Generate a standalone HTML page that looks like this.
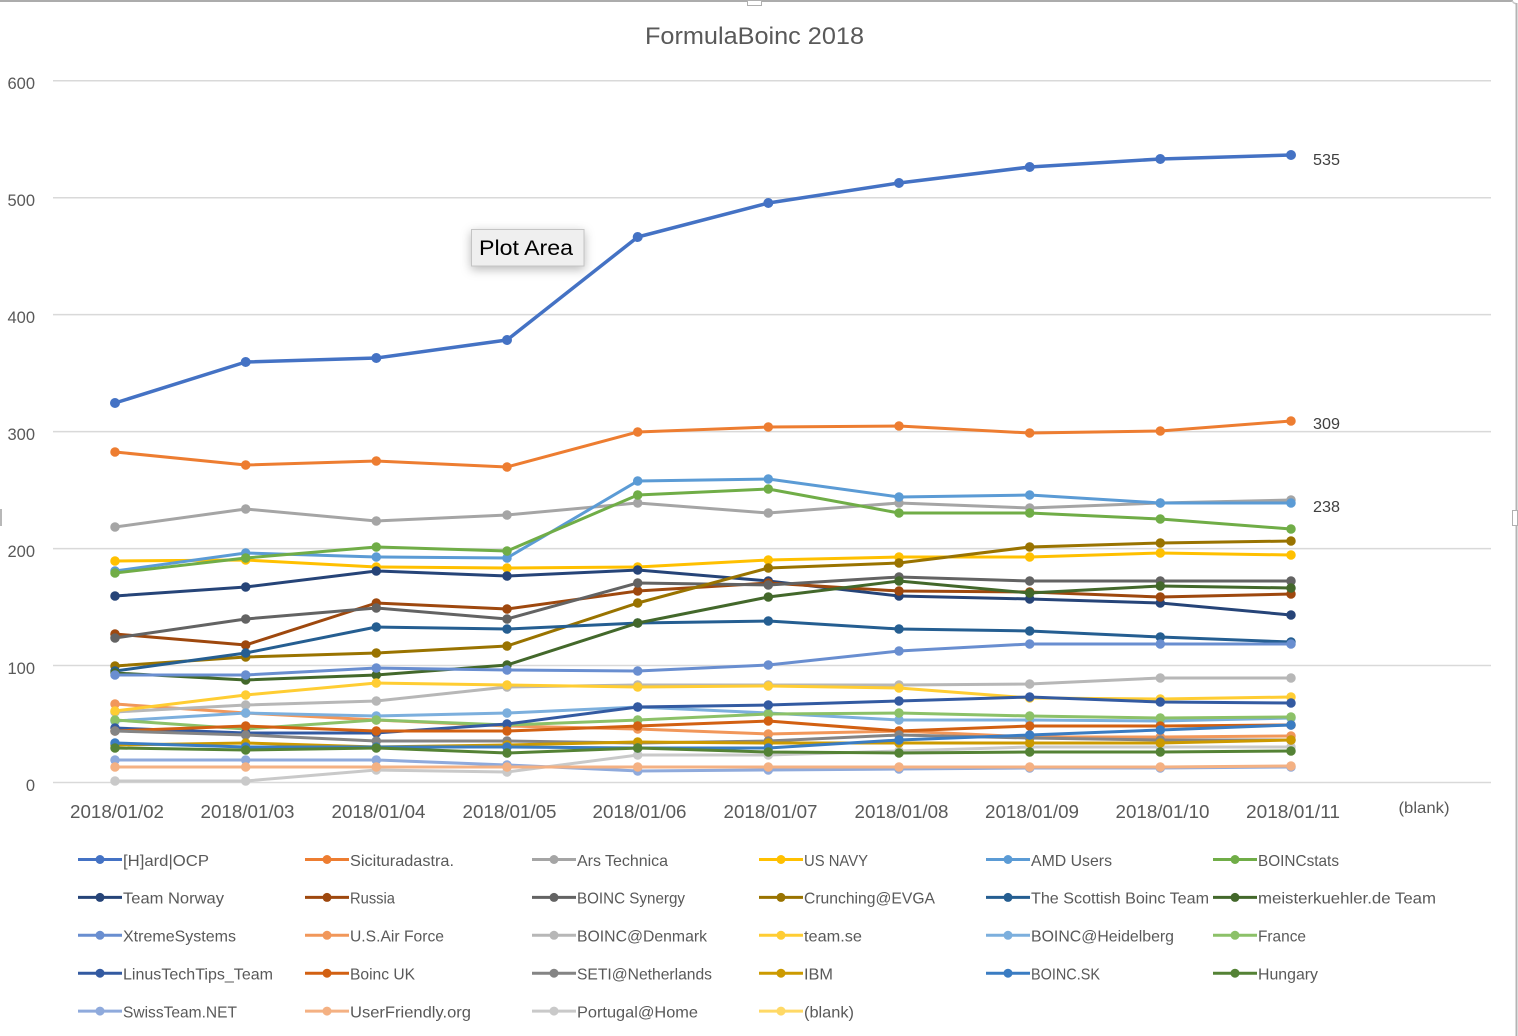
<!DOCTYPE html>
<html>
<head>
<meta charset="utf-8">
<style>
html,body{margin:0;padding:0;background:#fff;}
svg{display:block;}
text{font-family:"Liberation Sans",Arial,sans-serif;}
</style>
</head>
<body>
<svg width="1518" height="1036" viewBox="0 0 1518 1036" xmlns="http://www.w3.org/2000/svg">
<defs>
<filter id="sh" x="-30%" y="-50%" width="160%" height="220%">
<feDropShadow dx="0" dy="3" stdDeviation="5" flood-color="#000" flood-opacity="0.28"/>
</filter>
</defs>
<rect x="0" y="0" width="1518" height="1036" fill="#fff"/>

<!-- frame -->
<line x1="0" y1="1" x2="1513" y2="1" stroke="#ACACAC" stroke-width="2"/>
<polyline points="1512,1 1514,3 1516.5,4" fill="none" stroke="#C8C8C8" stroke-width="1.5"/>
<line x1="1516.5" y1="3" x2="1516.5" y2="1036" stroke="#B4B4B4" stroke-width="2"/>
<rect x="747.5" y="0.5" width="14" height="5" fill="#fff" stroke="#B0B0B0" stroke-width="1"/>
<rect x="1512.5" y="510.5" width="5" height="15" fill="#fff" stroke="#B0B0B0" stroke-width="1"/>
<rect x="0" y="509" width="2" height="17" fill="#B8B8B8"/>

<!-- title -->
<text x="754.5" y="44" font-size="24" fill="#595959" text-anchor="middle" textLength="219" lengthAdjust="spacingAndGlyphs">FormulaBoinc 2018</text>

<!-- gridlines -->
<g stroke="#D9D9D9" stroke-width="1.5">
<line x1="53" y1="80.7" x2="1491" y2="80.7"/>
<line x1="53" y1="197.7" x2="1491" y2="197.7"/>
<line x1="53" y1="314.6" x2="1491" y2="314.6"/>
<line x1="53" y1="431.6" x2="1491" y2="431.6"/>
<line x1="53" y1="548.6" x2="1491" y2="548.6"/>
<line x1="53" y1="665.5" x2="1491" y2="665.5"/>
<line x1="53" y1="782.5" x2="1491" y2="782.5"/>
</g>

<!-- y labels -->
<g font-size="16.5" fill="#595959" text-anchor="end">
<text x="35" y="89">600</text>
<text x="35" y="206">500</text>
<text x="35" y="323">400</text>
<text x="35" y="440">300</text>
<text x="35" y="557">200</text>
<text x="35" y="674">100</text>
<text x="35" y="791">0</text>
</g>

<!-- x labels -->
<g font-size="18.5" fill="#595959" text-anchor="middle">
<text x="117" y="818" textLength="94" lengthAdjust="spacingAndGlyphs">2018/01/02</text>
<text x="247.5" y="818" textLength="94" lengthAdjust="spacingAndGlyphs">2018/01/03</text>
<text x="378.5" y="818" textLength="94" lengthAdjust="spacingAndGlyphs">2018/01/04</text>
<text x="509.5" y="818" textLength="94" lengthAdjust="spacingAndGlyphs">2018/01/05</text>
<text x="639.5" y="818" textLength="94" lengthAdjust="spacingAndGlyphs">2018/01/06</text>
<text x="770.5" y="818" textLength="94" lengthAdjust="spacingAndGlyphs">2018/01/07</text>
<text x="901.5" y="818" textLength="94" lengthAdjust="spacingAndGlyphs">2018/01/08</text>
<text x="1032" y="818" textLength="94" lengthAdjust="spacingAndGlyphs">2018/01/09</text>
<text x="1162.5" y="818" textLength="94" lengthAdjust="spacingAndGlyphs">2018/01/10</text>
<text x="1293" y="818" textLength="94" lengthAdjust="spacingAndGlyphs">2018/01/11</text>
</g>
<text x="1424" y="813" font-size="16" fill="#595959" text-anchor="middle" textLength="51" lengthAdjust="spacingAndGlyphs">(blank)</text>

<!-- series -->
<g fill="none" stroke-linejoin="round" stroke-linecap="round">
<!-- 27 Portugal@Home -->
<polyline stroke="#C9C9C9" stroke-width="3" points="115,781 245.7,781 376.3,770 507,772 637.7,755 768.3,755 899,751 1029.7,747 1160.3,747 1291,747"/>
<path stroke="#C9C9C9" stroke-width="9.5" d="M115 781h0M245.7 781h0M376.3 770h0M507 772h0M637.7 755h0M768.3 755h0M899 751h0M1029.7 747h0M1160.3 747h0M1291 747h0"/>
<!-- 1 [H]ard|OCP -->
<polyline stroke="#4472C4" stroke-width="3.5" points="115,403 245.7,362 376.3,358 507,340 637.7,237 768.3,203 899,183 1029.7,167 1160.3,159 1291,155"/>
<path stroke="#4472C4" stroke-width="10" d="M115 403h0M245.7 362h0M376.3 358h0M507 340h0M637.7 237h0M768.3 203h0M899 183h0M1029.7 167h0M1160.3 159h0M1291 155h0"/>
<!-- 2 Sicituradastra. -->
<polyline stroke="#ED7D31" stroke-width="3" points="115,452 245.7,465 376.3,461 507,467 637.7,432 768.3,427 899,426 1029.7,433 1160.3,431 1291,421"/>
<path stroke="#ED7D31" stroke-width="9.5" d="M115 452h0M245.7 465h0M376.3 461h0M507 467h0M637.7 432h0M768.3 427h0M899 426h0M1029.7 433h0M1160.3 431h0M1291 421h0"/>
<!-- 3 Ars Technica -->
<polyline stroke="#A5A5A5" stroke-width="3" points="115,527 245.7,509 376.3,521 507,515 637.7,503 768.3,513 899,503 1029.7,508 1160.3,503 1291,500"/>
<path stroke="#A5A5A5" stroke-width="9.5" d="M115 527h0M245.7 509h0M376.3 521h0M507 515h0M637.7 503h0M768.3 513h0M899 503h0M1029.7 508h0M1160.3 503h0M1291 500h0"/>
<!-- 4 US NAVY -->
<polyline stroke="#FFC000" stroke-width="3" points="115,561 245.7,560 376.3,567 507,568 637.7,567 768.3,560 899,557 1029.7,557 1160.3,553 1291,555"/>
<path stroke="#FFC000" stroke-width="9.5" d="M115 561h0M245.7 560h0M376.3 567h0M507 568h0M637.7 567h0M768.3 560h0M899 557h0M1029.7 557h0M1160.3 553h0M1291 555h0"/>
<!-- 5 AMD Users -->
<polyline stroke="#5B9BD5" stroke-width="3" points="115,571 245.7,553 376.3,557 507,558 637.7,481 768.3,479 899,497 1029.7,495 1160.3,503 1291,503"/>
<path stroke="#5B9BD5" stroke-width="9.5" d="M115 571h0M245.7 553h0M376.3 557h0M507 558h0M637.7 481h0M768.3 479h0M899 497h0M1029.7 495h0M1160.3 503h0M1291 503h0"/>
<!-- 6 BOINCstats -->
<polyline stroke="#70AD47" stroke-width="3" points="115,573 245.7,558 376.3,547 507,551 637.7,495 768.3,489 899,513 1029.7,513 1160.3,519 1291,529"/>
<path stroke="#70AD47" stroke-width="9.5" d="M115 573h0M245.7 558h0M376.3 547h0M507 551h0M637.7 495h0M768.3 489h0M899 513h0M1029.7 513h0M1160.3 519h0M1291 529h0"/>
<!-- 7 Team Norway -->
<polyline stroke="#264478" stroke-width="3" points="115,596 245.7,587 376.3,571 507,576 637.7,570 768.3,581 899,596 1029.7,599 1160.3,603 1291,615"/>
<path stroke="#264478" stroke-width="9.5" d="M115 596h0M245.7 587h0M376.3 571h0M507 576h0M637.7 570h0M768.3 581h0M899 596h0M1029.7 599h0M1160.3 603h0M1291 615h0"/>
<!-- 8 Russia -->
<polyline stroke="#9E480E" stroke-width="3" points="115,634 245.7,645 376.3,603 507,609 637.7,591 768.3,583 899,591 1029.7,592 1160.3,597 1291,594"/>
<path stroke="#9E480E" stroke-width="9.5" d="M115 634h0M245.7 645h0M376.3 603h0M507 609h0M637.7 591h0M768.3 583h0M899 591h0M1029.7 592h0M1160.3 597h0M1291 594h0"/>
<!-- 9 BOINC Synergy -->
<polyline stroke="#636363" stroke-width="3" points="115,638 245.7,619 376.3,608 507,619 637.7,583 768.3,585 899,577 1029.7,581 1160.3,581 1291,581"/>
<path stroke="#636363" stroke-width="9.5" d="M115 638h0M245.7 619h0M376.3 608h0M507 619h0M637.7 583h0M768.3 585h0M899 577h0M1029.7 581h0M1160.3 581h0M1291 581h0"/>
<!-- 10 Crunching@EVGA -->
<polyline stroke="#997300" stroke-width="3" points="115,666 245.7,657 376.3,653 507,646 637.7,603 768.3,568 899,563 1029.7,547 1160.3,543 1291,541"/>
<path stroke="#997300" stroke-width="9.5" d="M115 666h0M245.7 657h0M376.3 653h0M507 646h0M637.7 603h0M768.3 568h0M899 563h0M1029.7 547h0M1160.3 543h0M1291 541h0"/>
<!-- 11 The Scottish Boinc Team -->
<polyline stroke="#255E91" stroke-width="3" points="115,671 245.7,653 376.3,627 507,629 637.7,623 768.3,621 899,629 1029.7,631 1160.3,637 1291,642"/>
<path stroke="#255E91" stroke-width="9.5" d="M115 671h0M245.7 653h0M376.3 627h0M507 629h0M637.7 623h0M768.3 621h0M899 629h0M1029.7 631h0M1160.3 637h0M1291 642h0"/>
<!-- 12 meisterkuehler.de Team -->
<polyline stroke="#43682B" stroke-width="3" points="115,673 245.7,680 376.3,675 507,665 637.7,623 768.3,597 899,581 1029.7,593 1160.3,586 1291,588"/>
<path stroke="#43682B" stroke-width="9.5" d="M115 673h0M245.7 680h0M376.3 675h0M507 665h0M637.7 623h0M768.3 597h0M899 581h0M1029.7 593h0M1160.3 586h0M1291 588h0"/>
<!-- 13 XtremeSystems -->
<polyline stroke="#698ED0" stroke-width="3" points="115,675 245.7,675 376.3,668 507,670 637.7,671 768.3,665 899,651 1029.7,644 1160.3,644 1291,644"/>
<path stroke="#698ED0" stroke-width="9.5" d="M115 675h0M245.7 675h0M376.3 668h0M507 670h0M637.7 671h0M768.3 665h0M899 651h0M1029.7 644h0M1160.3 644h0M1291 644h0"/>
<!-- 14 U.S.Air Force -->
<polyline stroke="#F1975A" stroke-width="3" points="115,704 245.7,713 376.3,720 507,726 637.7,729 768.3,734 899,731 1029.7,737 1160.3,737 1291,736"/>
<path stroke="#F1975A" stroke-width="9.5" d="M115 704h0M245.7 713h0M376.3 720h0M507 726h0M637.7 729h0M768.3 734h0M899 731h0M1029.7 737h0M1160.3 737h0M1291 736h0"/>
<!-- 15 BOINC@Denmark -->
<polyline stroke="#B7B7B7" stroke-width="3" points="115,712 245.7,705 376.3,701 507,687 637.7,685 768.3,685 899,685 1029.7,684 1160.3,678 1291,678"/>
<path stroke="#B7B7B7" stroke-width="9.5" d="M115 712h0M245.7 705h0M376.3 701h0M507 687h0M637.7 685h0M768.3 685h0M899 685h0M1029.7 684h0M1160.3 678h0M1291 678h0"/>
<!-- 16 team.se -->
<polyline stroke="#FFCD33" stroke-width="3" points="115,711 245.7,695 376.3,683 507,685 637.7,687 768.3,686 899,688 1029.7,698 1160.3,699 1291,697"/>
<path stroke="#FFCD33" stroke-width="9.5" d="M115 711h0M245.7 695h0M376.3 683h0M507 685h0M637.7 687h0M768.3 686h0M899 688h0M1029.7 698h0M1160.3 699h0M1291 697h0"/>
<!-- 17 BOINC@Heidelberg -->
<polyline stroke="#7CAFDD" stroke-width="3" points="115,721 245.7,713 376.3,716 507,713 637.7,707 768.3,713 899,720 1029.7,720 1160.3,721 1291,718"/>
<path stroke="#7CAFDD" stroke-width="9.5" d="M115 721h0M245.7 713h0M376.3 716h0M507 713h0M637.7 707h0M768.3 713h0M899 720h0M1029.7 720h0M1160.3 721h0M1291 718h0"/>
<!-- 18 France -->
<polyline stroke="#8CC168" stroke-width="3" points="115,720 245.7,729 376.3,720 507,725 637.7,720 768.3,714 899,713 1029.7,716 1160.3,718 1291,717"/>
<path stroke="#8CC168" stroke-width="9.5" d="M115 720h0M245.7 729h0M376.3 720h0M507 725h0M637.7 720h0M768.3 714h0M899 713h0M1029.7 716h0M1160.3 718h0M1291 717h0"/>
<!-- 19 LinusTechTips_Team -->
<polyline stroke="#335AA1" stroke-width="3" points="115,728 245.7,733 376.3,733 507,724 637.7,707 768.3,705 899,701 1029.7,697 1160.3,702 1291,703"/>
<path stroke="#335AA1" stroke-width="9.5" d="M115 728h0M245.7 733h0M376.3 733h0M507 724h0M637.7 707h0M768.3 705h0M899 701h0M1029.7 697h0M1160.3 702h0M1291 703h0"/>
<!-- 20 Boinc UK -->
<polyline stroke="#D26012" stroke-width="3" points="115,731 245.7,726 376.3,731 507,731 637.7,726 768.3,721 899,731 1029.7,726 1160.3,726 1291,725"/>
<path stroke="#D26012" stroke-width="9.5" d="M115 731h0M245.7 726h0M376.3 731h0M507 731h0M637.7 726h0M768.3 721h0M899 731h0M1029.7 726h0M1160.3 726h0M1291 725h0"/>
<!-- 21 SETI@Netherlands -->
<polyline stroke="#848484" stroke-width="3" points="115,731 245.7,735 376.3,741 507,741 637.7,743 768.3,741 899,735 1029.7,738 1160.3,740 1291,740"/>
<path stroke="#848484" stroke-width="9.5" d="M115 731h0M245.7 735h0M376.3 741h0M507 741h0M637.7 743h0M768.3 741h0M899 735h0M1029.7 738h0M1160.3 740h0M1291 740h0"/>
<!-- 22 IBM -->
<polyline stroke="#CC9A00" stroke-width="3" points="115,745 245.7,743 376.3,747 507,745 637.7,742 768.3,743 899,743 1029.7,743 1160.3,743 1291,740"/>
<path stroke="#CC9A00" stroke-width="9.5" d="M115 745h0M245.7 743h0M376.3 747h0M507 745h0M637.7 742h0M768.3 743h0M899 743h0M1029.7 743h0M1160.3 743h0M1291 740h0"/>
<!-- 23 BOINC.SK -->
<polyline stroke="#3A7CC2" stroke-width="3" points="115,743 245.7,747 376.3,747 507,747 637.7,748 768.3,748 899,740 1029.7,735 1160.3,730 1291,725"/>
<path stroke="#3A7CC2" stroke-width="9.5" d="M115 743h0M245.7 747h0M376.3 747h0M507 747h0M637.7 748h0M768.3 748h0M899 740h0M1029.7 735h0M1160.3 730h0M1291 725h0"/>
<!-- 24 Hungary -->
<polyline stroke="#548235" stroke-width="3" points="115,748 245.7,750 376.3,748 507,753 637.7,748 768.3,752 899,753 1029.7,752 1160.3,752 1291,751"/>
<path stroke="#548235" stroke-width="9.5" d="M115 748h0M245.7 750h0M376.3 748h0M507 753h0M637.7 748h0M768.3 752h0M899 753h0M1029.7 752h0M1160.3 752h0M1291 751h0"/>
<!-- 25 SwissTeam.NET -->
<polyline stroke="#8FAADC" stroke-width="3" points="115,760 245.7,760 376.3,760 507,765 637.7,771 768.3,770 899,769 1029.7,768 1160.3,768 1291,767"/>
<path stroke="#8FAADC" stroke-width="9.5" d="M115 760h0M245.7 760h0M376.3 760h0M507 765h0M637.7 771h0M768.3 770h0M899 769h0M1029.7 768h0M1160.3 768h0M1291 767h0"/>
<!-- 26 UserFriendly.org -->
<polyline stroke="#F4B183" stroke-width="3" points="115,767 245.7,767 376.3,767 507,767 637.7,767 768.3,767 899,767 1029.7,767 1160.3,767 1291,766"/>
<path stroke="#F4B183" stroke-width="9.5" d="M115 767h0M245.7 767h0M376.3 767h0M507 767h0M637.7 767h0M768.3 767h0M899 767h0M1029.7 767h0M1160.3 767h0M1291 766h0"/>
</g>

<!-- data labels -->
<g font-size="16" fill="#404040">
<text x="1313" y="165" textLength="27" lengthAdjust="spacingAndGlyphs">535</text>
<text x="1313" y="429" textLength="27" lengthAdjust="spacingAndGlyphs">309</text>
<text x="1313" y="512" textLength="27" lengthAdjust="spacingAndGlyphs">238</text>
</g>

<!-- Plot Area tooltip -->
<rect x="471.5" y="229.5" width="112.5" height="36.5" fill="#EFEFEF" stroke="#C4C4C4" stroke-width="1" filter="url(#sh)"/>
<text x="479" y="255" font-size="21" fill="#000" textLength="94" lengthAdjust="spacingAndGlyphs">Plot Area</text>

<!-- legend -->
<g stroke-linecap="butt">
<g transform="translate(0,859.5)">
<line x1="78" y1="0" x2="122" y2="0" stroke="#4472C4" stroke-width="3"/><circle cx="100" cy="0" r="4.5" fill="#4472C4"/>
<line x1="305" y1="0" x2="349" y2="0" stroke="#ED7D31" stroke-width="3"/><circle cx="327" cy="0" r="4.5" fill="#ED7D31"/>
<line x1="532" y1="0" x2="576" y2="0" stroke="#A5A5A5" stroke-width="3"/><circle cx="554" cy="0" r="4.5" fill="#A5A5A5"/>
<line x1="759" y1="0" x2="803" y2="0" stroke="#FFC000" stroke-width="3"/><circle cx="781" cy="0" r="4.5" fill="#FFC000"/>
<line x1="986" y1="0" x2="1030" y2="0" stroke="#5B9BD5" stroke-width="3"/><circle cx="1008" cy="0" r="4.5" fill="#5B9BD5"/>
<line x1="1213" y1="0" x2="1257" y2="0" stroke="#70AD47" stroke-width="3"/><circle cx="1235" cy="0" r="4.5" fill="#70AD47"/>
</g>
<g transform="translate(0,897.4)">
<line x1="78" y1="0" x2="122" y2="0" stroke="#264478" stroke-width="3"/><circle cx="100" cy="0" r="4.5" fill="#264478"/>
<line x1="305" y1="0" x2="349" y2="0" stroke="#9E480E" stroke-width="3"/><circle cx="327" cy="0" r="4.5" fill="#9E480E"/>
<line x1="532" y1="0" x2="576" y2="0" stroke="#636363" stroke-width="3"/><circle cx="554" cy="0" r="4.5" fill="#636363"/>
<line x1="759" y1="0" x2="803" y2="0" stroke="#997300" stroke-width="3"/><circle cx="781" cy="0" r="4.5" fill="#997300"/>
<line x1="986" y1="0" x2="1030" y2="0" stroke="#255E91" stroke-width="3"/><circle cx="1008" cy="0" r="4.5" fill="#255E91"/>
<line x1="1213" y1="0" x2="1257" y2="0" stroke="#43682B" stroke-width="3"/><circle cx="1235" cy="0" r="4.5" fill="#43682B"/>
</g>
<g transform="translate(0,935.3)">
<line x1="78" y1="0" x2="122" y2="0" stroke="#698ED0" stroke-width="3"/><circle cx="100" cy="0" r="4.5" fill="#698ED0"/>
<line x1="305" y1="0" x2="349" y2="0" stroke="#F1975A" stroke-width="3"/><circle cx="327" cy="0" r="4.5" fill="#F1975A"/>
<line x1="532" y1="0" x2="576" y2="0" stroke="#B7B7B7" stroke-width="3"/><circle cx="554" cy="0" r="4.5" fill="#B7B7B7"/>
<line x1="759" y1="0" x2="803" y2="0" stroke="#FFCD33" stroke-width="3"/><circle cx="781" cy="0" r="4.5" fill="#FFCD33"/>
<line x1="986" y1="0" x2="1030" y2="0" stroke="#7CAFDD" stroke-width="3"/><circle cx="1008" cy="0" r="4.5" fill="#7CAFDD"/>
<line x1="1213" y1="0" x2="1257" y2="0" stroke="#8CC168" stroke-width="3"/><circle cx="1235" cy="0" r="4.5" fill="#8CC168"/>
</g>
<g transform="translate(0,973.2)">
<line x1="78" y1="0" x2="122" y2="0" stroke="#335AA1" stroke-width="3"/><circle cx="100" cy="0" r="4.5" fill="#335AA1"/>
<line x1="305" y1="0" x2="349" y2="0" stroke="#D26012" stroke-width="3"/><circle cx="327" cy="0" r="4.5" fill="#D26012"/>
<line x1="532" y1="0" x2="576" y2="0" stroke="#848484" stroke-width="3"/><circle cx="554" cy="0" r="4.5" fill="#848484"/>
<line x1="759" y1="0" x2="803" y2="0" stroke="#CC9A00" stroke-width="3"/><circle cx="781" cy="0" r="4.5" fill="#CC9A00"/>
<line x1="986" y1="0" x2="1030" y2="0" stroke="#3A7CC2" stroke-width="3"/><circle cx="1008" cy="0" r="4.5" fill="#3A7CC2"/>
<line x1="1213" y1="0" x2="1257" y2="0" stroke="#548235" stroke-width="3"/><circle cx="1235" cy="0" r="4.5" fill="#548235"/>
</g>
<g transform="translate(0,1011.1)">
<line x1="78" y1="0" x2="122" y2="0" stroke="#8FAADC" stroke-width="3"/><circle cx="100" cy="0" r="4.5" fill="#8FAADC"/>
<line x1="305" y1="0" x2="349" y2="0" stroke="#F4B183" stroke-width="3"/><circle cx="327" cy="0" r="4.5" fill="#F4B183"/>
<line x1="532" y1="0" x2="576" y2="0" stroke="#C9C9C9" stroke-width="3"/><circle cx="554" cy="0" r="4.5" fill="#C9C9C9"/>
<line x1="759" y1="0" x2="803" y2="0" stroke="#FFD966" stroke-width="3"/><circle cx="781" cy="0" r="4.5" fill="#FFD966"/>
</g>
</g>

<g font-size="16" fill="#595959">
<text x="123" y="866" textLength="86" lengthAdjust="spacingAndGlyphs">[H]ard|OCP</text>
<text x="350" y="866" textLength="104" lengthAdjust="spacingAndGlyphs">Sicituradastra.</text>
<text x="577" y="866" textLength="91" lengthAdjust="spacingAndGlyphs">Ars Technica</text>
<text x="804" y="866" textLength="64" lengthAdjust="spacingAndGlyphs">US NAVY</text>
<text x="1031" y="866" textLength="81" lengthAdjust="spacingAndGlyphs">AMD Users</text>
<text x="1258" y="866" textLength="81" lengthAdjust="spacingAndGlyphs">BOINCstats</text>

<text x="123" y="903.5" textLength="101" lengthAdjust="spacingAndGlyphs">Team Norway</text>
<text x="350" y="903.5" textLength="45" lengthAdjust="spacingAndGlyphs">Russia</text>
<text x="577" y="903.5" textLength="108" lengthAdjust="spacingAndGlyphs">BOINC Synergy</text>
<text x="804" y="903.5" textLength="131" lengthAdjust="spacingAndGlyphs">Crunching@EVGA</text>
<text x="1031" y="903.5" textLength="178" lengthAdjust="spacingAndGlyphs">The Scottish Boinc Team</text>
<text x="1258" y="903.5" textLength="178" lengthAdjust="spacingAndGlyphs">meisterkuehler.de Team</text>

<text x="123" y="941.5" textLength="113" lengthAdjust="spacingAndGlyphs">XtremeSystems</text>
<text x="350" y="941.5" textLength="94" lengthAdjust="spacingAndGlyphs">U.S.Air Force</text>
<text x="577" y="941.5" textLength="130" lengthAdjust="spacingAndGlyphs">BOINC@Denmark</text>
<text x="804" y="941.5" textLength="58" lengthAdjust="spacingAndGlyphs">team.se</text>
<text x="1031" y="941.5" textLength="143" lengthAdjust="spacingAndGlyphs">BOINC@Heidelberg</text>
<text x="1258" y="941.5" textLength="48" lengthAdjust="spacingAndGlyphs">France</text>

<text x="123" y="979.5" textLength="150" lengthAdjust="spacingAndGlyphs">LinusTechTips_Team</text>
<text x="350" y="979.5" textLength="65" lengthAdjust="spacingAndGlyphs">Boinc UK</text>
<text x="577" y="979.5" textLength="135" lengthAdjust="spacingAndGlyphs">SETI@Netherlands</text>
<text x="804" y="979.5" textLength="29" lengthAdjust="spacingAndGlyphs">IBM</text>
<text x="1031" y="979.5" textLength="69" lengthAdjust="spacingAndGlyphs">BOINC.SK</text>
<text x="1258" y="979.5" textLength="60" lengthAdjust="spacingAndGlyphs">Hungary</text>

<text x="123" y="1017.5" textLength="114" lengthAdjust="spacingAndGlyphs">SwissTeam.NET</text>
<text x="350" y="1017.5" textLength="121" lengthAdjust="spacingAndGlyphs">UserFriendly.org</text>
<text x="577" y="1017.5" textLength="121" lengthAdjust="spacingAndGlyphs">Portugal@Home</text>
<text x="804" y="1017.5" textLength="50" lengthAdjust="spacingAndGlyphs">(blank)</text>
</g>
</svg>
</body>
</html>
